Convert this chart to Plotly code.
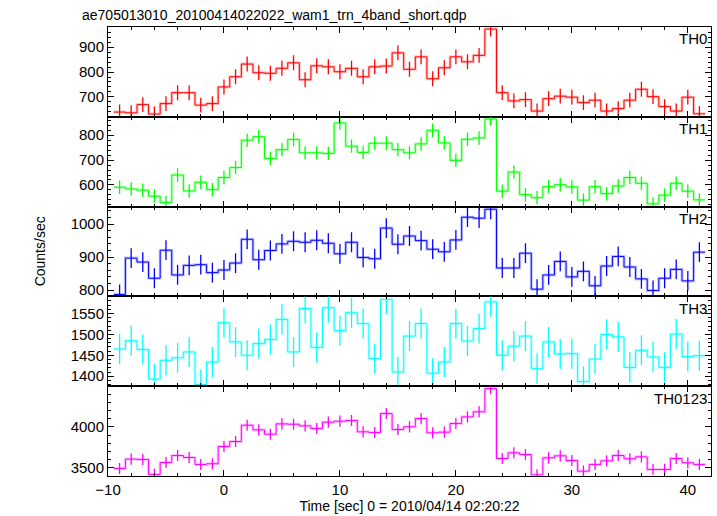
import plotly.graph_objects as go
from plotly.subplots import make_subplots

title_text = "ae705013010_20100414022022_wam1_trn_4band_short.qdp"
x_title = "Time [sec] 0 = 2010/04/14 02:20:22"
y_title = "Counts/sec"

time = list(range(-9, 42))
bin_half = 0.5

th0 = [639, 636, 669, 631, 673, 717, 717, 667, 673, 740, 781, 832, 797, 795, 815, 837, 769, 825, 821, 801,
       815, 781, 821, 824, 877, 811, 861, 773, 817, 861, 841, 867, 973, 717, 684, 689, 643, 693, 703, 699,
       677, 687, 643, 653, 687, 731, 701, 661, 643, 699, 632]
th1 = [591, 584, 579, 555, 529, 640, 576, 611, 581, 630, 670, 780, 794, 706, 742, 783, 729, 729, 727, 849,
       756, 731, 768, 768, 742, 729, 765, 820, 769, 699, 784, 789, 865, 575, 652, 561, 549, 593, 601, 592,
       539, 593, 565, 596, 630, 607, 524, 559, 607, 575, 540]
th2 = [787, 897, 885, 836, 921, 846, 875, 877, 853, 861, 882, 954, 892, 920, 940, 948, 945, 951, 942, 910,
       945, 899, 895, 988, 939, 964, 950, 924, 916, 952, 1021, 1018, 1045, 867, 867, 912, 803, 846, 887, 840,
       857, 813, 873, 902, 870, 834, 799, 836, 863, 828, 915]
th3 = [1465, 1485, 1464, 1393, 1438, 1444, 1458, 1380, 1434, 1528, 1482, 1450, 1478, 1488, 1536, 1458, 1562,
       1469, 1564, 1509, 1552, 1526, 1442, 1584, 1410, 1496, 1526, 1407, 1434, 1526, 1484, 1514, 1578, 1450,
       1472, 1496, 1418, 1482, 1453, 1454, 1387, 1441, 1500, 1494, 1421, 1462, 1446, 1421, 1501, 1447, 1449]
th0123 = [3492, 3606, 3602, 3419, 3565, 3650, 3626, 3541, 3549, 3760, 3821, 4020, 3963, 3910, 4036, 4032,
          4012, 3980, 4057, 4069, 4077, 3939, 3931, 4163, 3967, 4000, 4101, 3927, 3935, 4041, 4122, 4183,
          4467, 3614, 3683, 3662, 3414, 3622, 3646, 3589, 3459, 3541, 3585, 3650, 3610, 3634, 3480, 3480,
          3614, 3561, 3541]

errors = [30, 27, 30, 36, 68]
labels = ["TH0", "TH1", "TH2", "TH3", "TH0123"]
series = [th0, th1, th2, th3, th0123]
colors = ["#ff0000", "#00ff00", "#0000ff", "#00ffff", "#ff00ff"]
yranges = [[620, 981], [513, 874], [781, 1053], [1376, 1591], [3400, 4496]]
ytickvals = [[700, 800, 900], [600, 700, 800], [800, 900, 1000], [1400, 1450, 1500, 1550], [3500, 4000]]
yminor = [20, 20, 20, 10, 100]

FONT = "Liberation Sans"

fig = make_subplots(rows=5, cols=1, shared_xaxes=True, vertical_spacing=0)

for i, (vals, col, err) in enumerate(zip(series, colors, errors)):
    row = i + 1
    edges = [t - bin_half for t in time] + [time[-1] + bin_half]
    yy = vals + [vals[-1]]
    # soft halo
    fig.add_trace(go.Scatter(x=edges, y=yy, mode="lines", line=dict(color=col, width=3, shape="hv"),
                             opacity=0.22, hoverinfo="skip", showlegend=False), row=row, col=1)
    fig.add_trace(go.Scatter(x=edges, y=yy, mode="lines", line=dict(color=col, width=1, shape="hv"),
                             showlegend=False), row=row, col=1)
    fig.add_trace(go.Scatter(x=time, y=vals, mode="markers", marker=dict(size=1, color=col, opacity=0),
                             error_y=dict(type="constant", value=err, width=0, thickness=1.3, color=col),
                             showlegend=False), row=row, col=1)
    fig.update_yaxes(range=yranges[i], tickvals=ytickvals[i], row=row, col=1,
                     showline=True, linecolor="black", linewidth=1, mirror="allticks",
                     ticks="inside", ticklen=6, tickcolor="black", showgrid=False, zeroline=False,
                     minor=dict(dtick=yminor[i], ticks="inside", ticklen=3, tickcolor="black", showgrid=False),
                     tickfont=dict(size=15, color="black", family=FONT))
    fig.update_xaxes(range=[-10, 42], dtick=10, row=row, col=1,
                     showline=True, linecolor="black", linewidth=1, mirror="allticks",
                     ticks="inside", ticklen=6, tickcolor="black", showgrid=False, zeroline=False,
                     minor=dict(dtick=2, ticks="inside", ticklen=3, tickcolor="black", showgrid=False),
                     tickfont=dict(size=15, color="black", family=FONT),
                     showticklabels=(row == 5))
    yref = "y domain" if row == 1 else f"y{row} domain"
    xref = "x domain" if row == 1 else f"x{row} domain"
    fig.add_annotation(text=labels[i], x=0.997, y=0.985, xref=xref, yref=yref, xanchor="right", yanchor="top",
                       showarrow=False, font=dict(size=15, color="black", family=FONT))

fig.update_xaxes(title=dict(text=x_title, font=dict(size=14, color="black", family=FONT), standoff=2),
                 row=5, col=1)

fig.add_annotation(text=y_title, x=-0.113, y=0.5, xref="paper", yref="paper", xanchor="center", yanchor="middle",
                   textangle=-90, showarrow=False, font=dict(size=14, color="black", family=FONT))
fig.add_annotation(text=title_text, x=-0.047, y=1.0, xref="paper", yref="paper", xanchor="left", yanchor="bottom",
                   yshift=2, showarrow=False, font=dict(size=14, color="black", family=FONT))

fig.update_layout(width=717, height=516, margin=dict(l=108, r=6, t=27, b=40),
                  plot_bgcolor="white", paper_bgcolor="white", showlegend=False)

fig.write_html("out.html", config={"displayModeBar": False},
               post_script="document.body.style.margin='0';")
